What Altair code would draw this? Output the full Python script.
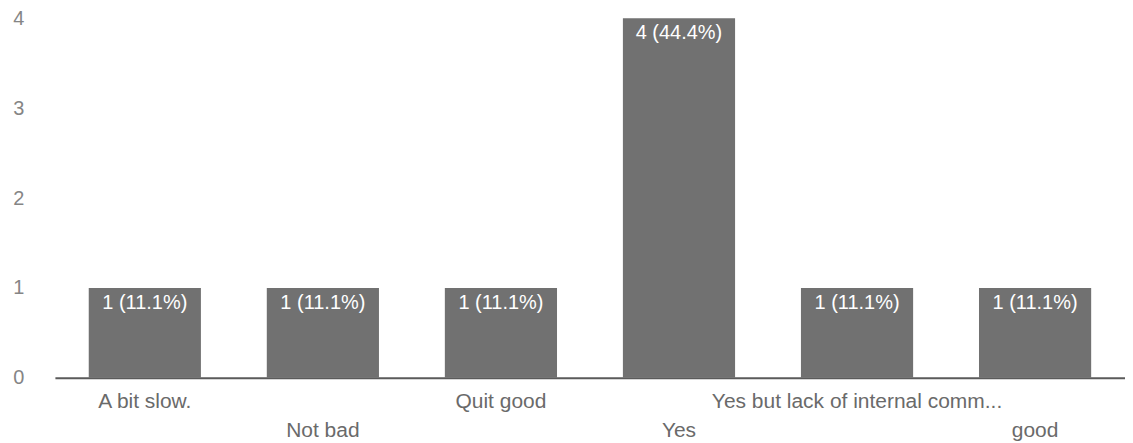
import altair as alt
import pandas as pd

categories = ["A bit slow.", "Not bad", "Quit good", "Yes", "Yes but lack of internal comm...", "good"]
counts = [1, 1, 1, 4, 1, 1]
value_labels = ["1 (11.1%)", "1 (11.1%)", "1 (11.1%)", "4 (44.4%)", "1 (11.1%)", "1 (11.1%)"]
label_rows = [0, 1, 0, 1, 0, 1]
y_ticks = [0, 1, 2, 3, 4]

df = pd.DataFrame({"cat": categories, "count": counts, "lab": value_labels, "row": label_rows})

W, H = 1072, 360
FONT = "Liberation Sans"

x = alt.X("cat:N", sort=categories,
          scale=alt.Scale(paddingInner=0.37, paddingOuter=0.19),
          axis=alt.Axis(title=None, labels=False, ticks=False, domain=True,
                        domainColor="#5a5a5a", domainWidth=2))
y = alt.Y("count:Q", scale=alt.Scale(domain=[0, 4]),
          axis=alt.Axis(title=None, values=y_ticks, format="d", grid=False, ticks=False,
                        domain=False, labelColor="#858585", labelFontSize=20, labelFont=FONT,
                        labelPadding=31, labelAlign="right"))

base = alt.Chart(df)

bars = base.mark_bar(color="#717171").encode(x=x, y=y)

vals = base.mark_text(color="white", fontSize=20, font=FONT, baseline="top", dy=5).encode(
    x=alt.X("cat:N", sort=categories), y=alt.Y("count:Q"), text="lab:N")

lab0 = base.transform_filter("datum.row == 0").mark_text(
    color="#6a6a6a", fontSize=21, font=FONT, baseline="middle").encode(
    x=alt.X("cat:N", sort=categories), y=alt.value(H + 24), text="cat:N")
lab1 = base.transform_filter("datum.row == 1").mark_text(
    color="#6a6a6a", fontSize=21, font=FONT, baseline="middle").encode(
    x=alt.X("cat:N", sort=categories), y=alt.value(H + 53), text="cat:N")

chart = alt.layer(bars, vals, lab0, lab1).properties(
    width=W, height=H, padding={"left": 4, "top": 0, "right": 0, "bottom": 0}
).configure(background="white").configure_view(strokeWidth=0, stroke=None)

chart.save("out.html", embed_options={"renderer": "svg", "actions": False})
